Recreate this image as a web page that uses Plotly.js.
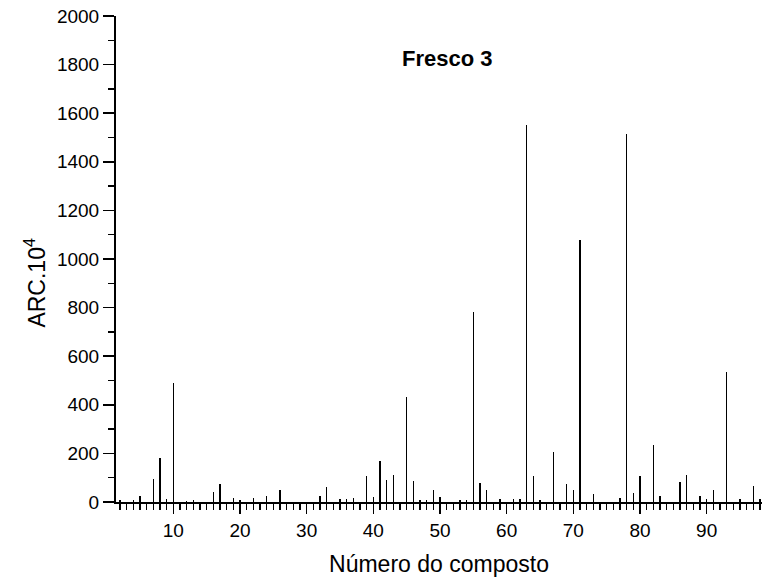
<!DOCTYPE html>
<html>
<head>
<meta charset="utf-8">
<script src="https://cdn.plot.ly/plotly-3.0.1.min.js"></script>
<style>html,body{margin:0;padding:0;background:#fff;}#chart{width:762px;height:579px;}</style>
</head>
<body>
<div id="chart"></div>
<script>
const compostos = [2,4,5,7,8,9,10,12,13,16,17,19,20,22,24,26,32,33,35,36,37,39,40,41,42,43,45,46,47,48,49,50,53,54,55,56,57,59,61,62,63,64,65,67,69,70,71,73,77,78,79,80,82,83,86,87,89,90,91,93,95,97,98];
const arc = [10,10,23,94,183,11,490,5,10,40,74,18,7,15,23,48,23,61,14,14,18,106,19,167,92,110,432,88,10,10,48,19,7,10,781,77,48,11,11,11,1553,106,10,207,73,48,1079,32,18,1516,37,107,234,23,81,110,23,11,51,533,14,65,11];
const chartTitle = "Fresco 3";
const xTitle = "Número do composto";
const yTitle = "ARC.10<sup>4</sup>";

const font = "Liberation Sans, Arial, sans-serif";
const trace = {
  type: "bar",
  x: compostos,
  y: arc,
  width: 0.16,
  marker: {color: "#000", line: {width: 0}},
  hoverinfo: "x+y"
};
const layout = {
  width: 762, height: 579,
  margin: {l: 116, r: 0, t: 16, b: 77, pad: 0},
  paper_bgcolor: "#fff", plot_bgcolor: "#fff",
  showlegend: false,
  font: {family: font, color: "#000", size: 19},
  xaxis: {
    range: [1.4, 98.3],
    dtick: 10, tick0: 0,
    ticks: "outside", ticklen: 10, tickwidth: 1.5, tickcolor: "#000",
    minor: {dtick: 1, tick0: 0, ticks: "outside", ticklen: 6, tickwidth: 1.5, tickcolor: "#000"},
    showline: true, linecolor: "#000", linewidth: 2,
    showgrid: false, zeroline: false,
    tickfont: {family: font, size: 19},
    title: {text: xTitle, font: {family: font, size: 23}, standoff: 16}
  },
  yaxis: {
    range: [0, 2000],
    dtick: 200, tick0: 0,
    ticks: "outside", ticklen: 11, tickwidth: 1.5, tickcolor: "#000",
    minor: {dtick: 100, ticks: "outside", ticklen: 6, tickwidth: 1.5, tickcolor: "#000"},
    showline: true, linecolor: "#000", linewidth: 2,
    showgrid: false, zeroline: false,
    tickfont: {family: font, size: 19}
  },
  annotations: [{
    text: "<b>" + chartTitle + "</b>",
    xref: "paper", yref: "paper",
    x: 0.513, y: 0.912, xanchor: "center", yanchor: "middle",
    showarrow: false,
    font: {family: font, size: 22, color: "#000"}
  }, {
    text: yTitle,
    xref: "paper", yref: "paper",
    x: -0.125, y: 0.452, xanchor: "center", yanchor: "middle",
    textangle: -90,
    showarrow: false,
    font: {family: font, size: 23, color: "#000"}
  }],
  bargap: 0
};
Plotly.newPlot("chart", [trace], layout, {displayModeBar: false, staticPlot: true});
</script>
</body>
</html>
